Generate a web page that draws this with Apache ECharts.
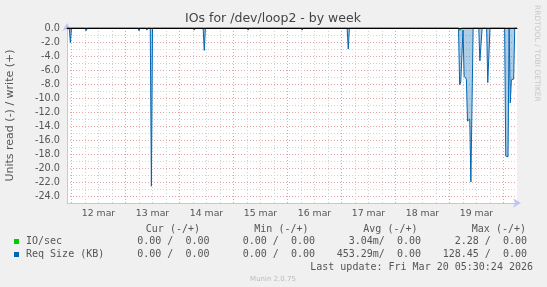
<!DOCTYPE html>
<html>
<head>
<meta charset="utf-8">
<script src="https://cdn.jsdelivr.net/npm/echarts@6/dist/echarts.min.js"></script>
<style>
html,body{margin:0;padding:0;background:#f0f0f0;}
#c{width:547px;height:287px;}
</style>
</head>
<body>
<div id="c"></div>
<script>
// x values are hours since 12 mar 00:00
const dayLabels = ['12 mar','13 mar','14 mar','15 mar','16 mar','17 mar','18 mar','19 mar'];
const dayNoonHours = [12,36,60,84,108,132,156,180];
const gridHours = [0,6,12,18,24,30,36,42,48,54,60,66,72,78,84,90,96,102,108,114,120,126,132,138,144,150,156,162,168,174,180,186,192];
const yTickValues = [-24,-23,-22,-21,-20,-19,-18,-17,-16,-15,-14,-13,-12,-11,-10,-9,-8,-7,-6,-5,-4,-3,-2,-1];
const yLabelValues = [-24,-22,-20,-18,-16,-14,-12,-10,-8,-6,-4,-2,0];

// Req Size (KB), read (drawn negative)
const reqHours  = [-2,-1,-0.5,0, 6,6.5,7, 29.5,30,30.5, 33,33.5,34, 35,35.5,36, 54,54.5,55, 58.5,59,59.5, 78,78.5,79, 102,102.5,103, 122.5,123,123.5,
  172,172.5,173,173.5,174,174.5,175,175.5,176,176.5,177,177.5,178,178.5, 181,181.5,182,182.5, 184.5,185,185.5,186, 192.5,193,193.5,194,194.5,195,195.5,196,196.5,197,198];
const reqValues = [0,0,-2.1,0, 0,-0.4,0, 0,-0.4,0, 0,-0.3,0, 0,-22.6,0, 0,-0.3,0, 0,-3.2,0, 0,-0.3,0, 0,-0.3,0, 0,-3.0,0,
  0,-8.1,-7.7,-7.6,-0.3,-6.9,-7.0,-7.3,-13.3,-13.3,-13.0,-22.0,-22.0,0, 0,-4.7,-4.7,0, 0,-7.8,-7.8,0, 0,-18.3,-18.4,-18.4,0,-10.7,-7.4,-7.2,-7.3,0,0];

// IO/sec, read (drawn negative)
const ioHours  = [-2,172,172.5,173,173.5,195.5,196,196.5,198];
const ioValues = [0,0,-0.3,-0.2,0,0,-0.15,0,0];

const reqData = reqHours.map((h,i)=>[h,reqValues[i]]);
const ioData = ioHours.map((h,i)=>[h,ioValues[i]]);

const chart = echarts.init(document.getElementById('c'), null, {renderer:'canvas'});
const FONT = 'DejaVu Sans';
const MONO = 'DejaVu Sans Mono';
const txt = '#555';

function t(text, x, y, align, opts){
  opts = opts || {};
  return {type:'text', x:x, y:y, silent:true, rotation: opts.rot || 0,
    style:{text:text, fill: opts.fill || txt, font: (opts.size||10)+'px "'+(opts.family||MONO)+'"', align:align, verticalAlign:'middle'}};
}

const graphics = [
  t('IOs for /dev/loop2 - by week', 273, 19, 'center', {family:FONT, size:12.5, fill:'#444'}),
  t('RRDTOOL / TOBI OETIKER', 537, 5, 'left', {family:FONT, size:7.5, fill:'#c8c8c8', rot:-Math.PI/2}),
  t('Cur (-/+)', 200, 229, 'right'),
  t('Min (-/+)', 308.5, 229, 'right'),
  t('Avg (-/+)', 417.5, 229, 'right'),
  t('Max (-/+)', 526, 229, 'right'),
  {type:'rect', shape:{x:14,y:239,width:5,height:5}, style:{fill:'#00cc00'}},
  {type:'rect', shape:{x:14,y:252,width:5,height:5}, style:{fill:'#0066b3'}},
  t('IO/sec', 26, 241.5, 'left'),
  t('Req Size (KB)', 26, 254.5, 'left'),
  t('0.00 /  0.00', 209.5, 241.5, 'right'),
  t('0.00 /  0.00', 315, 241.5, 'right'),
  t('3.04m/  0.00', 421, 241.5, 'right'),
  t('2.28 /  0.00', 527, 241.5, 'right'),
  t('0.00 /  0.00', 209.5, 254.5, 'right'),
  t('0.00 /  0.00', 315, 254.5, 'right'),
  t('453.29m/  0.00', 421, 254.5, 'right'),
  t('128.45 /  0.00', 527, 254.5, 'right'),
  t('Last update: Fri Mar 20 05:30:24 2026', 533, 267, 'right'),
  t('Munin 2.0.75', 273, 279.5, 'center', {family:FONT, size:7, fill:'#bbb'})
];

chart.setOption({
  animation:false,
  backgroundColor:'#f0f0f0',
  grid:{left:67, right:30, top:28, bottom:84, show:true, backgroundColor:'#ffffff', borderWidth:0,
    containLabel:false, outerBoundsMode:'none'},
  xAxis:[{
    type:'value', min:-2, max:198,
    axisLine:{show:true, onZero:false, lineStyle:{color:'#c4c4f4', width:1}, symbol:['none','arrow'], symbolSize:[7,8], symbolOffset:[0,4]},
    axisTick:{show:false, customValues:gridHours},
    axisLabel:{customValues:dayNoonHours, color:txt, fontFamily:FONT, fontSize:9.3, margin:6,
      formatter:function(v){ const i = dayNoonHours.indexOf(v); return i>=0 ? dayLabels[i] : ''; }},
    splitLine:{show:true, lineStyle:{color:['#e3a3a3','#d2d2d2','#d2d2d2','#d2d2d2'], type:[1,2], width:1}}
  },{
    type:'value', min:-2, max:198, position:'top', z:10,
    axisLine:{show:true, onZero:false, lineStyle:{color:'#000', width:1}},
    axisTick:{show:false}, axisLabel:{show:false}, splitLine:{show:false}
  }],
  yAxis:{
    type:'value', min:-25, max:0,
    name:'Units read (-) / write (+)', nameLocation:'middle', nameGap:51, nameRotate:90,
    nameTextStyle:{color:txt, fontFamily:FONT, fontSize:11},
    axisLine:{show:true, onZero:false, lineStyle:{color:'#c4c4f4', width:1}, symbol:['none','arrow'], symbolSize:[7,8], symbolOffset:[0,5]},
    axisTick:{show:false, customValues:yTickValues},
    axisLabel:{customValues:yLabelValues, color:txt, fontFamily:FONT, fontSize:9.7, margin:7,
      formatter:function(v){ return (v===0?0:v).toFixed(1); }},
    splitLine:{show:true, lineStyle:{color:['#e3a3a3','#d2d2d2'], type:[1,2], width:1}}
  },
  series:[{
    type:'line', name:'Req Size (KB)', data:reqData, symbol:'none', xAxisIndex:0,
    lineStyle:{color:'#0066b3', width:1}, itemStyle:{color:'#0066b3'},
    areaStyle:{color:'rgba(0,102,179,0.45)'}
  },{
    type:'line', name:'IO/sec', data:ioData, symbol:'none', xAxisIndex:0,
    lineStyle:{color:'#00cc00', width:1.5}, itemStyle:{color:'#00cc00'}
  }],
  graphic:graphics
});
</script>
</body>
</html>
